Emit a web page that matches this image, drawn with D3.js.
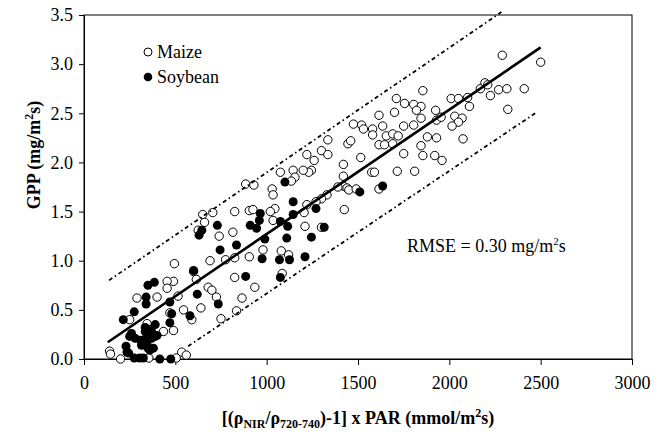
<!DOCTYPE html>
<html>
<head>
<meta charset="utf-8">
<script src="https://cdn.jsdelivr.net/npm/d3@7"></script>
<style>
  body { margin: 0; background: #fff; }
  svg { display: block; }
  svg text { font-family: "Liberation Serif", "DejaVu Serif", serif; }
</style>
</head>
<body>
<div id="chart"></div>
<script>
const WIDTH = 661;
const HEIGHT = 436;
const margin = { left: 84, right: 29, top: 15, bottom: 77 };
const FONT = "Liberation Serif, DejaVu Serif, serif";

const xTicks = [0, 500, 1000, 1500, 2000, 2500, 3000];
const yTicks = [0, 0.5, 1.0, 1.5, 2.0, 2.5, 3.0, 3.5];

// Maize (open circles)
const maizeX = [2290, 2500, 1855, 1805, 1845, 1820, 1845, 1805, 1925, 1930, 1955, 2010, 2050, 2100, 2110, 2170, 2195, 2210, 2225, 2270,
  2315, 2410, 2320, 2030, 2070, 2050, 2015, 2075, 1880, 1930, 1845, 1855, 1920, 1960, 1810, 1710, 1755, 1615, 1700, 1475,
  1520, 1530, 1580, 1635, 1580, 1655, 1690, 1720, 1750, 1615, 1645, 1690, 1750, 1515, 1335, 1445, 1460, 1220, 1300, 1335,
  1260, 1420, 1245, 1230, 1575, 1590, 1715, 1420, 1420, 1390, 1440, 1450, 1490, 1615, 1330, 1300, 1270, 1220, 1205, 1425,
  1210, 1300, 1200, 1145, 1155, 1075, 1135, 1045, 1035, 980, 1080, 1120, 885, 930, 1030, 1035, 905, 925, 825, 705,
  650, 660, 625, 815, 740, 905, 690, 775, 825, 495, 490, 455, 615, 680, 700, 725, 825, 935, 455, 1085,
  1020, 865, 835, 640, 750, 600, 515, 290, 400, 545, 590, 470, 250, 345, 490, 435, 140, 145, 200, 535,
  560, 505, 355, 325];
const maizeY = [3.09, 3.02, 2.73, 2.59, 2.57, 2.53, 2.45, 2.38, 2.53, 2.43, 2.46, 2.65, 2.65, 2.66, 2.57, 2.75, 2.81, 2.79, 2.68, 2.74,
  2.75, 2.75, 2.54, 2.47, 2.45, 2.41, 2.37, 2.24, 2.26, 2.25, 2.17, 2.07, 2.07, 2.02, 1.91, 2.65, 2.60, 2.48, 2.51, 2.39,
  2.38, 2.34, 2.34, 2.37, 2.28, 2.27, 2.29, 2.27, 2.37, 2.18, 2.18, 2.19, 2.09, 2.05, 2.23, 2.19, 2.22, 2.08, 2.12, 2.08,
  2.02, 1.98, 1.92, 1.90, 1.90, 1.90, 1.91, 1.86, 1.76, 1.75, 1.74, 1.72, 1.73, 1.73, 1.67, 1.63, 1.60, 1.57, 1.49, 1.52,
  1.35, 1.34, 1.92, 1.92, 1.85, 1.90, 1.81, 1.53, 1.41, 1.11, 1.10, 1.06, 1.78, 1.77, 1.73, 1.67, 1.51, 1.52, 1.50, 1.49,
  1.47, 1.39, 1.31, 1.29, 1.25, 1.04, 1.00, 1.01, 1.03, 0.97, 0.79, 0.79, 0.81, 0.73, 0.70, 0.63, 0.83, 0.73, 0.72, 0.87,
  1.50, 0.62, 0.49, 0.52, 0.41, 0.89, 0.64, 0.62, 0.63, 0.50, 0.40, 0.47, 0.40, 0.36, 0.29, 0.28, 0.08, 0.05, 0.00, 0.07,
  0.04, 0.01, 0.01, 0.19];

// Soybean (filled circles)
const soyX = [1510, 1635, 1270, 1315, 1245, 1210, 965, 960, 910, 945, 1075, 1115, 1145, 1145, 730, 645, 630, 990, 1110, 835,
  745, 975, 1070, 1125, 885, 1075, 735, 620, 1100, 600, 385, 350, 215, 275, 340, 340, 470, 580, 480, 470,
  390, 355, 335, 370, 400, 310, 345, 370, 390, 250, 260, 315, 345, 360, 380, 230, 235, 245, 275, 305,
  325, 415, 475, 335, 280, 350];
const soyY = [1.70, 1.76, 1.53, 1.34, 1.24, 1.04, 1.48, 1.41, 1.36, 1.33, 1.40, 1.35, 1.47, 1.60, 1.36, 1.31, 1.26, 1.22, 1.23, 1.16,
  1.11, 1.02, 1.01, 1.01, 0.84, 0.83, 0.56, 0.66, 1.80, 0.90, 0.78, 0.75, 0.40, 0.48, 0.63, 0.56, 0.58, 0.44, 0.46, 0.37,
  0.35, 0.30, 0.28, 0.28, 0.24, 0.19, 0.23, 0.21, 0.23, 0.23, 0.26, 0.14, 0.15, 0.09, 0.11, 0.13, 0.07, 0.06, 0.01, 0.01,
  0.01, 0.00, 0.00, 0.32, 0.21, 0.11];

// Fitted line and the two bounds, end points
const fitX = [130, 2500];
const fitY = [0.17, 3.17];
const upperX = [137, 2285];
const upperY = [0.80, 3.53];
const lowerX = [570, 2470];
const lowerY = [0.13, 2.50];

const svg = d3.select("#chart")
  .append("svg")
  .attr("width", WIDTH)
  .attr("height", HEIGHT)
  .attr("font-family", FONT);

const x = d3.scaleLinear().domain([0, 3000]).range([margin.left, WIDTH - margin.right]);
const y = d3.scaleLinear().domain([0, 3.5]).range([HEIGHT - margin.bottom, margin.top]);

// frame
svg.append("rect")
  .attr("x", x(0)).attr("y", y(3.5))
  .attr("width", x(3000) - x(0)).attr("height", y(0) - y(3.5))
  .attr("fill", "none").attr("stroke", "#000").attr("stroke-width", 1);

const xAxis = svg.append("g")
  .attr("transform", `translate(0,${y(0)})`)
  .call(d3.axisBottom(x).tickValues(xTicks).tickSize(6).tickPadding(11).tickSizeOuter(0).tickFormat(d3.format("d")));
const yAxis = svg.append("g")
  .attr("transform", `translate(${x(0)},0)`)
  .call(d3.axisLeft(y).tickValues(yTicks).tickSize(5).tickPadding(6).tickSizeOuter(0).tickFormat(d3.format(".1f")));

[xAxis, yAxis].forEach(a => {
  a.attr("font-family", FONT).attr("font-size", 18);
  a.select(".domain").attr("stroke", "#000");
  a.selectAll("line").attr("stroke", "#000");
  a.selectAll("text").attr("fill", "#000");
});

// points
svg.append("g").selectAll("circle")
  .data(d3.range(maizeX.length))
  .join("circle")
  .attr("cx", i => x(maizeX[i]))
  .attr("cy", i => y(maizeY[i]))
  .attr("r", 4.2)
  .attr("fill", "#fff")
  .attr("stroke", "#000")
  .attr("stroke-width", 1);

svg.append("g").selectAll("circle")
  .data(d3.range(soyX.length))
  .join("circle")
  .attr("cx", i => x(soyX[i]))
  .attr("cy", i => y(soyY[i]))
  .attr("r", 4.5)
  .attr("fill", "#000");

// lines
const line = d3.line().x(d => x(d[0])).y(d => y(d[1]));
svg.append("path")
  .attr("d", line(d3.zip(fitX, fitY)))
  .attr("stroke", "#000").attr("stroke-width", 2.6).attr("fill", "none");
[[upperX, upperY], [lowerX, lowerY]].forEach(([lx, ly]) => {
  svg.append("path")
    .attr("d", line(d3.zip(lx, ly)))
    .attr("stroke", "#000").attr("stroke-width", 1.8).attr("fill", "none")
    .attr("stroke-dasharray", "4,3,1.5,3");
});

// legend
const legend = svg.append("g").attr("font-family", FONT).attr("font-size", 18);
legend.append("circle").attr("cx", 148).attr("cy", 52).attr("r", 4)
  .attr("fill", "#fff").attr("stroke", "#000");
legend.append("text").attr("x", 157).attr("y", 58).text("Maize");
legend.append("circle").attr("cx", 148).attr("cy", 77).attr("r", 4.3).attr("fill", "#000");
legend.append("text").attr("x", 157).attr("y", 83).text("Soybean");

// RMSE note
const rmse = svg.append("text").attr("x", 407).attr("y", 252)
  .attr("font-family", FONT).attr("font-size", 18);
rmse.append("tspan").text("RMSE = 0.30 mg/m");
rmse.append("tspan").attr("dy", -7).attr("font-size", 11).text("2");
rmse.append("tspan").attr("dy", 7).text("s");

// axis titles
const xt = svg.append("text")
  .attr("x", 358).attr("y", 424)
  .attr("text-anchor", "middle")
  .attr("font-family", FONT)
  .attr("font-weight", "bold")
  .attr("font-size", 18);
xt.append("tspan").text("[(ρ");
xt.append("tspan").attr("dy", 4).attr("font-size", 12).text("NIR");
xt.append("tspan").attr("dy", -4).text("/ρ");
xt.append("tspan").attr("dy", 4).attr("font-size", 12).text("720-740");
xt.append("tspan").attr("dy", -4).text(")-1] x PAR (mmol/m");
xt.append("tspan").attr("dy", -7).attr("font-size", 12).text("2");
xt.append("tspan").attr("dy", 7).text("s)");

const yt = svg.append("text")
  .attr("transform", "translate(40,155) rotate(-90)")
  .attr("text-anchor", "middle")
  .attr("font-family", FONT)
  .attr("font-weight", "bold")
  .attr("font-size", 18);
yt.append("tspan").text("GPP (mg/m");
yt.append("tspan").attr("dy", -7).attr("font-size", 12).text("2");
yt.append("tspan").attr("dy", 7).text("s)");
</script>
</body>
</html>
